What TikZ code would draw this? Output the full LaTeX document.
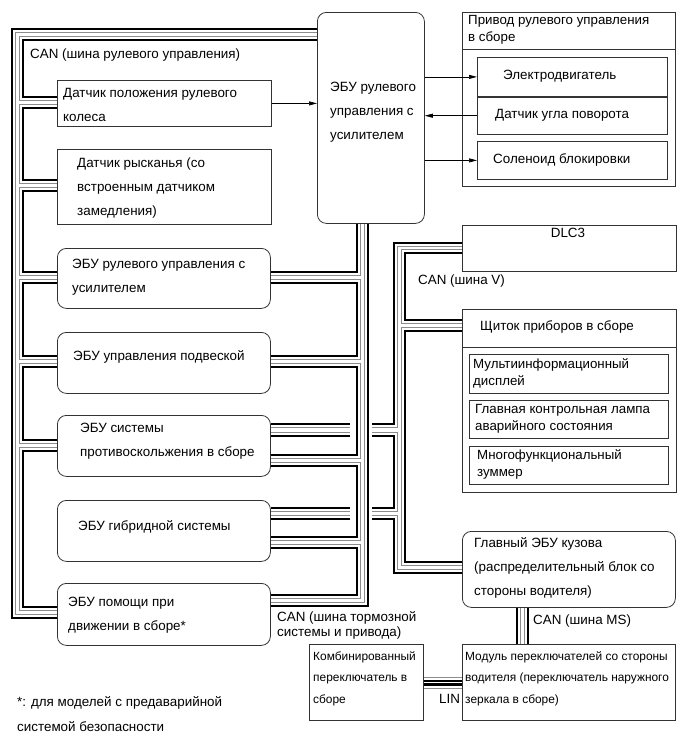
\documentclass[tikz,border=0pt]{standalone}
\usepackage{fontspec}
\setmainfont{Liberation Sans}
\usetikzlibrary{arrows.meta,positioning,calc}

\begin{document}
\begin{tikzpicture}[
    x=1pt, y=-1pt,
    txt/.style={font={\fontsize{13.4}{24}\selectfont}, align=left, anchor=west, inner sep=0pt},
    sml/.style={txt, font={\fontsize{13.3}{17}\selectfont}},
    tny/.style={txt, font={\fontsize{11.9}{21.5}\selectfont}},
    sbox/.style={draw=black!80, line width=0.8pt, anchor=north west, inner sep=0pt},
    ecu/.style={sbox, rounded corners=9pt},
    wblk/.style={line width=2.2pt},
    wgry/.style={line width=0.9pt, black!45},
    arr/.style={line width=0.7pt, -{Triangle[length=8pt,width=4pt]}}
  ]
  \useasboundingbox (0,0) rectangle (690,756);

  % Left column
  \node[sbox, minimum width=214pt, minimum height=46pt] (dpos) at (57,80) {};
  \node[sbox, minimum width=214pt, minimum height=75pt] (yaw) at (57,149) {};
  \node[ecu, minimum width=213pt, minimum height=60pt] (epsb) at (57,248) {};
  \node[ecu, minimum width=213pt, minimum height=61pt] (susp) at (57,332) {};
  \node[ecu, minimum width=213pt, minimum height=61pt] (skid) at (57,415) {};
  \node[ecu, minimum width=213pt, minimum height=61pt] (hyb) at (57,500) {};
  \node[ecu, minimum width=213pt, minimum height=62pt] (assist) at (57,583) {};

  \node[txt] (dpostxt) at (63,104.5) {Датчик положения рулевого\\колеса};
  \node[txt] (yawtxt) at (77,188) {Датчик рысканья (со\\встроенным датчиком\\замедления)};
  \node[txt] (epsbtxt) at (72,277) {ЭБУ рулевого управления с\\усилителем};
  \node[txt] (susptxt) at (73,357) {ЭБУ управления подвеской};
  \node[txt] (skidtxt) at (80,441) {ЭБУ системы\\противоскольжения в сборе};
  \node[txt] (hybtxt) at (78,527) {ЭБУ гибридной системы};
  \node[txt] (assisttxt) at (68,615) {ЭБУ помощи при\\движении в сборе*};

  % Steering ECU and actuator
  \node[ecu, minimum width=107pt, minimum height=211pt] (eps) at (317,12) {};
  \node[txt] (epstxt) at (330,112.5) {ЭБУ рулевого\\управления с\\усилителем};

  \node[sbox, minimum width=213pt, minimum height=174pt] (act) at (462,12) {};
  \draw[black!80, line width=0.8pt] (act.west |- 0,49) -- (act.east |- 0,49);
  \node[sml] (acttxt) at (468,29.5) {Привод рулевого управления\\в сборе};
  \node[sbox, minimum width=190pt, minimum height=39pt] (motor) at (477,57) {};
  \node[sbox, minimum width=190pt, minimum height=37pt] (angle) at (motor.south west) {};
  \node[sbox, minimum width=190pt, minimum height=38pt] (sol) at (477,141) {};
  \node[txt] (motortxt) at (503,76.5) {Электродвигатель};
  \node[txt] (angletxt) at (495,115.5) {Датчик угла поворота};
  \node[txt] (soltxt) at (493,160) {Соленоид блокировки};

  \draw[arr] (dpos.east) -- (dpos.east -| eps.west);
  \draw[arr] (eps.east |- motor.west) -- (motor.west);
  \draw[arr] (angle.west) -- (angle.west -| eps.east);
  \draw[arr] (eps.east |- sol.west) -- (sol.west);

  % Right column
  \node[sbox, minimum width=214pt, minimum height=46pt] (dlc) at (462,225) {};
  \node[txt, anchor=center] (dlctxt) at (568,233) {DLC3};

  \node[sbox, minimum width=214pt, minimum height=183pt] (meter) at (462,309) {};
  \draw[black!80, line width=0.8pt] (meter.west |- 0,347) -- (meter.east |- 0,347);
  \node[txt] (metertxt) at (480,327) {Щиток приборов в сборе};
  \node[sbox, minimum width=199pt, minimum height=39pt] (disp) at (469,354) {};
  \node[sbox, minimum width=199pt, minimum height=38pt] (lamp) at (469,400) {};
  \node[sbox, minimum width=199pt, minimum height=38pt] (buzz) at (469,446) {};
  \node[sml] (disptxt) at (473,373.5) {Мультиинформационный\\дисплей};
  \node[sml] (lamptxt) at (475,419) {Главная контрольная лампа\\аварийного состояния};
  \node[sml] (buzztxt) at (477,464) {Многофункциональный\\зуммер};

  \node[ecu, minimum width=213pt, minimum height=76pt] (body) at (462,531) {};
  \node[txt] (bodytxt) at (474,568) {Главный ЭБУ кузова\\(распределительный блок со\\стороны водителя)};

  \node[sbox, minimum width=213pt, minimum height=76pt] (swmod) at (462,644) {};
  \node[tny] (swmodtxt) at (465,678.5) {Модуль переключателей со стороны\\водителя (переключатель наружного\\зеркала в сборе)};
  \node[sbox, minimum width=114pt, minimum height=76pt] (comb) at (309,644) {};
  \node[tny] (combtxt) at (313,678.5) {Комбинированный\\переключатель в\\сборе};

  % Bus labels
  \node[txt] (lblsteer) at (30,55) {CAN (шина рулевого управления)};
  \node[txt] (lblv) at (418,281) {CAN (шина V)};
  \node[txt, font={\fontsize{13.4}{15}\selectfont}] (lblbrake) at (277,625.5) {CAN (шина тормозной\\системы и привода)};
  \node[txt] (lblms) at (533,621) {CAN (шина MS)};
  \node[txt] (lbllin) at (439,699) {LIN};
  \node[txt, font={\fontsize{13.4}{25}\selectfont}] (note) at (17,714.5) {*: для моделей с предаварийной\\системой безопасности};

  % CAN steering bus
  \draw[wgry] (eps.west |- 0,32.5) -| (15.5,614.5) -- (assist.west |- 0,614.5);
  \draw[wblk] (eps.west |- 0,29) -| (12,618) -- (assist.west |- 0,618);
  \draw[wgry] (eps.west |- 0,36.5) -| (19.5,100.5) -- (dpos.west |- 0,100.5);
  \draw[wblk] (eps.west |- 0,40) -| (23,97) -- (dpos.west |- 0,97);
  \foreach \a/\b/\go/\bo/\gi/\bi in {dpos/yaw/104.5/108/183.5/180, yaw/epsb/187.5/191/275.5/272,
      epsb/susp/279.5/283/359.5/356, susp/skid/363.5/367/443.5/440, skid/assist/447.5/451/610.5/607} {
    \draw[wgry] (\a.west |- 0,\go) -| (19.5,\gi) -- (\b.west |- 0,\gi);
    \draw[wblk] (\a.west |- 0,\bo) -| (23,\bi) -- (\b.west |- 0,\bi);
  }

  % CAN brake / drive bus
  \draw[wgry] (eps.south -| 364.5,0) |- (assist.east |- 0,602.5);
  \draw[wblk] (eps.south -| 368,0) |- (assist.east |- 0,606);
  \draw[wgry] (eps.south -| 360.5,0) |- (epsb.east |- 0,275.5);
  \draw[wblk] (eps.south -| 357,0) |- (epsb.east |- 0,272);
  \foreach \a/\b/\go/\bo/\gi/\bi in {epsb/susp/279.5/283/359.5/356, susp/skid/363.5/367/458.5/455,
      skid/hyb/462.5/466/540.5/537, hyb/assist/544.5/548/598.5/595} {
    \draw[wgry] (\a.east |- 0,\go) -| (360.5,\gi) -- (\b.east |- 0,\gi);
    \draw[wblk] (\a.east |- 0,\bo) -| (357,\bi) -- (\b.east |- 0,\bi);
  }

  % CAN V bus
  \draw[wgry] (dlc.west |- 0,249.5) -| (401.5,323.5) -- (meter.west |- 0,323.5);
  \draw[wblk] (dlc.west |- 0,253) -| (405,320) -- (meter.west |- 0,320);
  \draw[wgry] (meter.west |- 0,327.5) -| (401.5,565.5) -- (body.west |- 0,565.5);
  \draw[wblk] (meter.west |- 0,331) -| (405,562) -- (body.west |- 0,562);
  \draw[wgry] (dlc.west |- 0,246.5) -| (397.5,427.5) -- (372,427.5);
  \draw[wblk] (dlc.west |- 0,243) -| (394,424) -- (372,424);
  \draw[wgry] (372,432.5) -| (397.5,511.5) -- (372,511.5);
  \draw[wblk] (372,436) -| (394,508) -- (372,508);
  \draw[wgry] (372,515.5) -| (397.5,569.5) -- (body.west |- 0,569.5);
  \draw[wblk] (372,519) -| (394,573) -- (body.west |- 0,573);
  % passing under the brake bus
  \foreach \n/\y/\s in {skid/424/wblk, skid/427.5/wgry, skid/432.5/wgry, skid/436/wblk,
      hyb/508/wblk, hyb/511.5/wgry, hyb/515.5/wgry, hyb/519/wblk}
    \draw[\s] (\n.east |- 0,\y) -- (350,\y);

  % CAN MS bus and LIN
  \foreach \x/\s in {520.5/wgry, 524.5/wgry, 517/wblk, 528/wblk}
    \draw[\s] (body.south -| \x,0) -- (swmod.north -| \x,0);
  \foreach \y/\s in {677.5/wgry, 688/wgry, 681/wblk, 684.5/wblk}
    \draw[\s] (comb.east |- 0,\y) -- (swmod.west |- 0,\y);
\end{tikzpicture}
\end{document}
